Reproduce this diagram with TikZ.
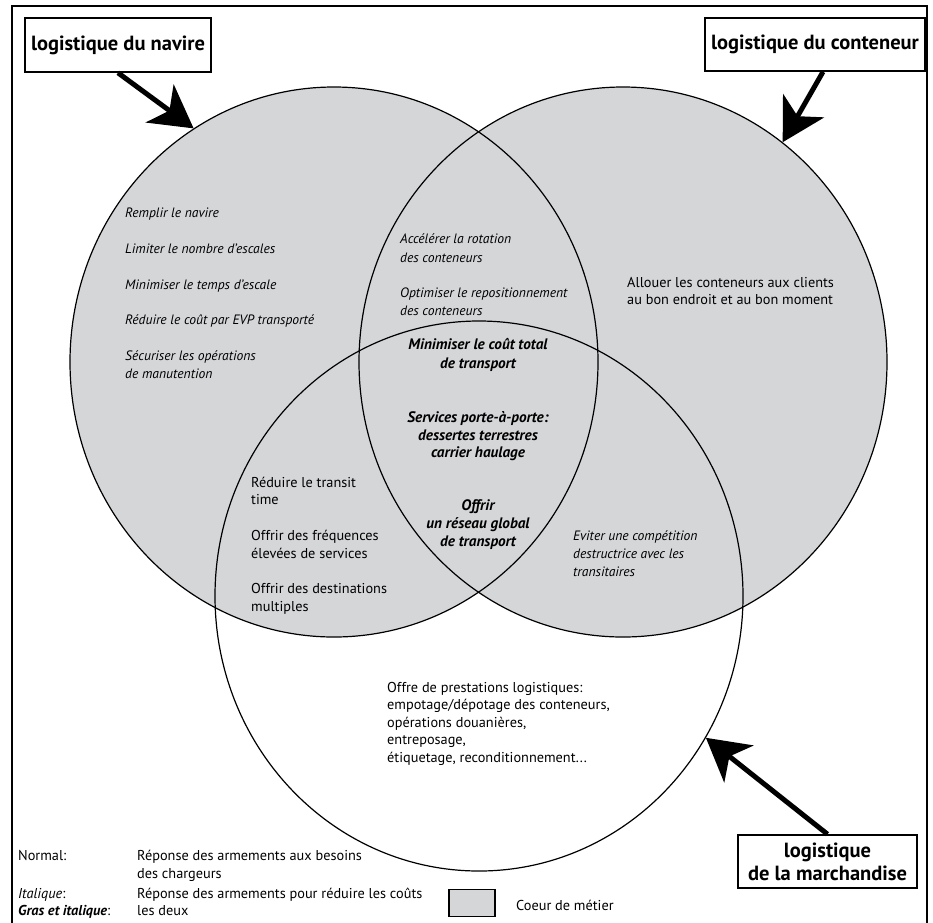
\documentclass[tikz,border=0pt]{standalone}
\usepackage{fontspec}
\setmainfont{PT Sans}
\usetikzlibrary{arrows.meta,shapes.geometric}
\definecolor{coeur}{RGB}{213,214,216}
\tikzset{
  cadre/.style={draw=black, line width=1.8pt},
  cercle/.style={ellipse, draw=black, line width=1.2pt, inner sep=0pt, minimum width=528pt, minimum height=550pt},
  lbl/.style={draw=black, line width=1.6pt, fill=white, inner sep=0pt, align=center, font=\fontsize{20.5}{23}\selectfont\bfseries},
  nt/.style={inner sep=0pt, anchor=base west, font=\fontsize{14.3}{17}\selectfont},
  it/.style={inner sep=0pt, anchor=base west, font=\fontsize{13.6}{17}\selectfont\itshape},
  bi/.style={inner sep=0pt, anchor=base, font=\fontsize{15.2}{17}\selectfont\bfseries\itshape},
  fleche/.style={line width=5pt, -{Stealth[length=42pt,width=47pt,inset=12pt]}},
}
\begin{document}
\begin{tikzpicture}[x=1pt,y=-1pt]
\useasboundingbox (0,0) rectangle (933,922);
% frame
\draw[cadre] (12,930) -- (12,6) -- (927,6) -- (927,930);
% fills
\fill[coeur] (334,362) ellipse [x radius=264pt, y radius=275pt];
\fill[coeur] (623,362) ellipse [x radius=264pt, y radius=275pt];
% outlines
\node[cercle] (navire) at (334,362) {};
\node[cercle] (conteneur) at (623,362) {};
\node[cercle] (marchandise) at (479,596) {};
% labels
\node[lbl, minimum width=186pt, minimum height=54pt] (bnavire) at (118,45) {logistique du navire};
\node[lbl, minimum width=220pt, minimum height=53pt] (bconteneur) at (815,44.5) {logistique du conteneur};
\node[lbl, minimum width=179pt, minimum height=53pt] (bmarch) at (827.5,861.5) {logistique\\de la marchandise};
% arrows
\draw[fleche] (bnavire.south) -- (navire.121.6);
\draw[fleche] ([xshift=8pt]bconteneur.south) -- (conteneur.54.4);
\draw[fleche] (bmarch.north) -- (marchandise.-32.7);
% left circle
\node[it] (r1) at (125,217) {Remplir le navire};
\node[it] (r2) at (125,253) {Limiter le nombre d’escales};
\node[it] (r3) at (125,289) {Minimiser le temps d’escale};
\node[it] (r4) at (125,324) {Réduire le coût par EVP transporté};
\node[it] (r5) at (125,360) {Sécuriser les opérations};
\node[it] (r6) at (125,378) {de manutention};
% top lens
\node[it] (a1) at (400,243) {Accélérer la rotation};
\node[it] (a2) at (400,262) {des conteneurs};
\node[it] (a3) at (400,297) {Optimiser le repositionnement};
\node[it] (a4) at (400,315) {des conteneurs};
% centre
\node[bi] (c1) at (478,349) {Minimiser le coût total};
\node[bi] (c2) at (478,368) {de transport};
\node[bi] (c3) at (478,422) {Services porte-à-porte:};
\node[bi] (c4) at (478,440) {dessertes terrestres};
\node[bi] (c5) at (478,457) {carrier haulage};
\node[bi] (c6) at (478,510) {Offrir};
\node[bi] (c7) at (478,528) {un réseau global};
\node[bi] (c8) at (478,546) {de transport};
% right circle
\node[nt] (d1) at (627,287) {Allouer les conteneurs aux clients};
\node[nt] (d2) at (627,304) {au bon endroit et au bon moment};
% left-bottom lens
\node[nt] (e1) at (251,487) {Réduire le transit};
\node[nt] (e2) at (251,504) {time};
\node[nt] (e3) at (251,540) {Offrir des fréquences};
\node[nt] (e4) at (251,558) {élevées de services};
\node[nt] (e5) at (251,593) {Offrir des destinations};
\node[nt] (e6) at (251,611) {multiples};
% right-bottom lens
\node[it] (f1) at (573,540) {Eviter une compétition};
\node[it] (f2) at (573,558) {destructrice avec les};
\node[it] (f3) at (573,576) {transitaires};
% bottom circle
\node[nt] (g1) at (387,692) {Offre de prestations logistiques:};
\node[nt] (g2) at (387,709) {empotage/dépotage des conteneurs,};
\node[nt] (g3) at (387,727) {opérations douanières,};
\node[nt] (g4) at (387,744) {entreposage,};
\node[nt] (g5) at (387,762) {étiquetage, reconditionnement...};
% legend
\node[nt] (l1) at (18,860) {Normal:};
\node[nt] (l2) at (137,860) {Réponse des armements aux besoins};
\node[nt] (l3) at (137,878) {des chargeurs};
\node[nt] (l4) at (18,898) {\itshape Italique\upshape:};
\node[nt] (l5) at (137,898) {Réponse des armements pour réduire les coûts};
\node[nt] (l6) at (18,915) {\bfseries\itshape Gras et italique\upshape\mdseries:};
\node[nt] (l7) at (137,915) {les deux};
\node[draw=black, fill=coeur, line width=1.2pt, inner sep=0pt, minimum width=46pt, minimum height=27pt] (leg) at (472,903) {};
\node[nt] (l8) at (516,910) {Coeur de métier};
\end{tikzpicture}
\end{document}
